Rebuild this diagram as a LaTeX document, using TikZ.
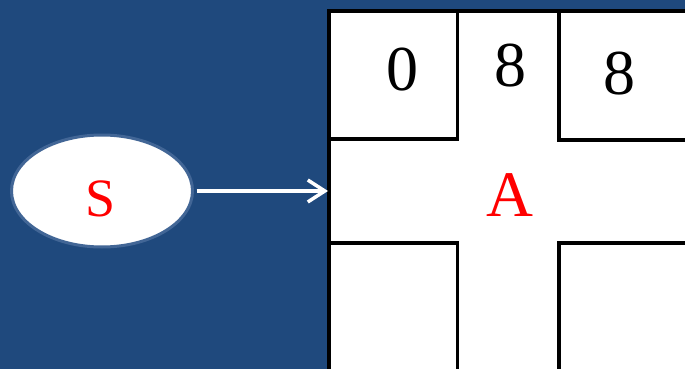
\documentclass[tikz,border=0pt]{standalone}
\usepackage{fontspec}
\setmainfont{Liberation Serif}
\usetikzlibrary{shapes.geometric,arrows.meta}
\definecolor{bgblue}{HTML}{1F497D}
\definecolor{rimblue}{RGB}{66,102,150}
\definecolor{lblred}{RGB}{255,0,0}
\begin{document}
\begin{tikzpicture}[x=1pt,y=-1pt,
  cell/.style={draw=black,line width=3.6pt,fill=white},
  digit/.style={anchor=base,inner sep=0pt,font=\fontsize{64}{64}\selectfont},
  redlbl/.style={anchor=base,inner sep=0pt,text=lblred},
  startnode/.style={ellipse,draw=rimblue,line width=3pt,fill=white,minimum width=181pt,minimum height=112pt,inner sep=0pt},
  feed/.style={draw=white,line width=3.5pt,-{Straight Barb[length=17pt,width=22pt,line width=3.5pt]}}
]
\useasboundingbox (0,0) rectangle (685,369);
\fill[bgblue] (0,0) rectangle (685,369);
\begin{scope}
\clip (0,0) rectangle (685,369);
\draw[cell] (328.7,11) rectangle (700,390);
\draw[cell] (328.7,11) rectangle (457.5,139);
\draw[cell] (559,11) rectangle (700,140);
\draw[cell] (328.7,243) rectangle (457.5,390);
\draw[cell] (559,243) rectangle (700,390);
\end{scope}
\node[digit] (d0) at (402,90) {0};
\node[digit] (d8a) at (510,86.5) {8};
\node[digit] (d8b) at (619,94) {8};
\node[redlbl,font=\fontsize{65}{65}\selectfont] (A) at (509.5,216) {A};
\node[startnode] (s) at (102,191) {};
\node[redlbl,font=\fontsize{54}{54}\selectfont] (slbl) at (101,216) {S};
\coordinate (entry) at (328,191);
\draw[feed,shorten <=2.5pt] (s.east) -- (entry);
\end{tikzpicture}
\end{document}
